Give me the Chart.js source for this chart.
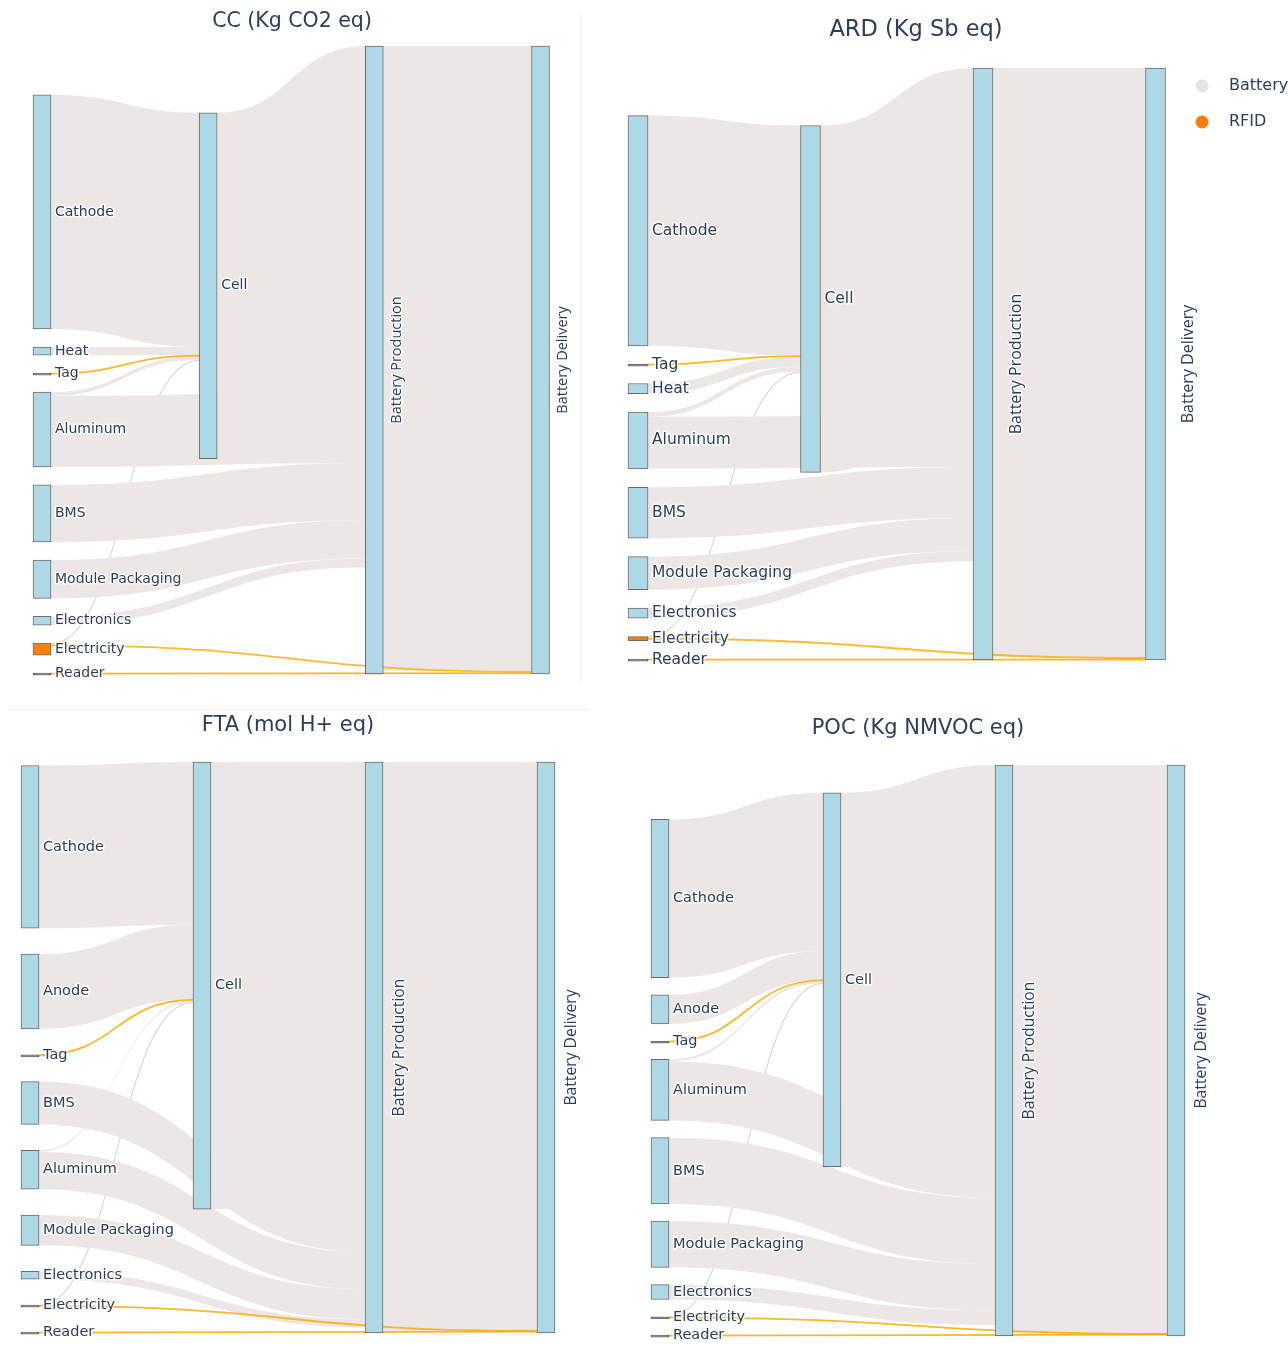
<!DOCTYPE html>
<html>
<head>
<meta charset="utf-8">
<script src="https://cdn.jsdelivr.net/npm/chart.js@4.4.0/dist/chart.umd.min.js"></script>
<style>
  body { margin: 0; background: #fff; }
  #page { position: relative; width: 1288px; height: 1345px; overflow: hidden; }
  canvas { position: absolute; }
  .rule { position: absolute; background: #f0f0f0; }
</style>
</head>
<body>
<div id="page">
  <div class="rule" style="left:580px;top:12px;width:1px;height:670px"></div>
  <div class="rule" style="left:8px;top:709px;width:582px;height:1px"></div>
  <canvas id="cc" width="600" height="690" style="left:0;top:0"></canvas>
  <canvas id="ard" width="688" height="690" style="left:600px;top:0"></canvas>
  <canvas id="fta" width="600" height="655" style="left:0;top:690px"></canvas>
  <canvas id="poc" width="688" height="655" style="left:600px;top:690px"></canvas>
</div>
<script>
// flow categories and the nodes that belong to the RFID system
var linkTypes = ['Battery', 'RFID'];
var rfidNodes = ['Tag', 'Electricity', 'Reader'];

// all values are % of the delivered battery impact
// CC (Kg CO2 eq)
var ccNodes = ['Cathode', 'Heat', 'Tag', 'Aluminum', 'BMS', 'Module Packaging', 'Electronics', 'Electricity', 'Reader', 'Cell', 'Battery Production', 'Battery Delivery'];
var ccNodeValues = [37.3, 1.3, 0.15, 11.9, 9.1, 6.1, 1.4, 1.9, 0.15, 55.1, 100, 100];
var ccSource = ['Cathode', 'Heat', 'Tag', 'Aluminum', 'Electricity', 'Aluminum', 'BMS', 'Module Packaging', 'Electronics', 'Cell', 'Battery Production', 'Electricity', 'Reader'];
var ccTarget = ['Cell', 'Cell', 'Cell', 'Cell', 'Cell', 'Battery Production', 'Battery Production', 'Battery Production', 'Battery Production', 'Battery Production', 'Battery Delivery', 'Battery Delivery', 'Battery Delivery'];
var ccValue = [37.3, 1.3, 0.15, 0.6, 0.2, 11.3, 9.1, 6.1, 1.4, 55.1, 99.5, 0.3, 0.15];
var ccType = ['Battery', 'Battery', 'RFID', 'Battery', 'Battery', 'Battery', 'Battery', 'Battery', 'Battery', 'Battery', 'Battery', 'RFID', 'RFID'];

// ARD (Kg Sb eq)
var ardNodes = ['Cathode', 'Tag', 'Heat', 'Aluminum', 'BMS', 'Module Packaging', 'Electronics', 'Electricity', 'Reader', 'Cell', 'Battery Production', 'Battery Delivery'];
var ardNodeValues = [38.9, 0.15, 1.7, 9.6, 8.6, 5.6, 1.7, 0.7, 0.15, 58.6, 100, 100];
var ardSource = ['Cathode', 'Tag', 'Heat', 'Aluminum', 'Electricity', 'Aluminum', 'BMS', 'Module Packaging', 'Electronics', 'Cell', 'Battery Production', 'Electricity', 'Reader'];
var ardTarget = ['Cell', 'Cell', 'Cell', 'Cell', 'Cell', 'Battery Production', 'Battery Production', 'Battery Production', 'Battery Production', 'Battery Production', 'Battery Delivery', 'Battery Delivery', 'Battery Delivery'];
var ardValue = [38.9, 0.15, 1.7, 0.8, 0.2, 8.8, 8.6, 5.6, 1.7, 58.6, 99.5, 0.35, 0.15];
var ardType = ['Battery', 'RFID', 'Battery', 'Battery', 'Battery', 'Battery', 'Battery', 'Battery', 'Battery', 'Battery', 'Battery', 'RFID', 'RFID'];

// FTA (mol H+ eq)
var ftaNodes = ['Cathode', 'Anode', 'Tag', 'BMS', 'Aluminum', 'Module Packaging', 'Electronics', 'Electricity', 'Reader', 'Cell', 'Battery Production', 'Battery Delivery'];
var ftaNodeValues = [28.5, 13.1, 0.15, 7.5, 6.8, 5.3, 1.4, 0.2, 0.15, 78.3, 100, 100];
var ftaSource = ['Cathode', 'Anode', 'Tag', 'Aluminum', 'Electricity', 'BMS', 'Aluminum', 'Module Packaging', 'Electronics', 'Cell', 'Battery Production', 'Electricity', 'Reader'];
var ftaTarget = ['Cell', 'Cell', 'Cell', 'Cell', 'Cell', 'Battery Production', 'Battery Production', 'Battery Production', 'Battery Production', 'Battery Production', 'Battery Delivery', 'Battery Delivery', 'Battery Delivery'];
var ftaValue = [28.5, 13.1, 0.15, 0.3, 0.1, 7.5, 6.5, 5.3, 1.4, 78.3, 99.6, 0.1, 0.15];
var ftaType = ['Battery', 'Battery', 'RFID', 'Battery', 'Battery', 'Battery', 'Battery', 'Battery', 'Battery', 'Battery', 'Battery', 'RFID', 'RFID'];

// POC (Kg NMVOC eq)
var pocNodes = ['Cathode', 'Anode', 'Tag', 'Aluminum', 'BMS', 'Module Packaging', 'Electronics', 'Electricity', 'Reader', 'Cell', 'Battery Production', 'Battery Delivery'];
var pocNodeValues = [27.7, 5.1, 0.15, 10.7, 11.6, 8.1, 2.6, 0.2, 0.15, 65.5, 100, 100];
var pocSource = ['Cathode', 'Anode', 'Tag', 'Aluminum', 'Electricity', 'Aluminum', 'BMS', 'Module Packaging', 'Electronics', 'Cell', 'Battery Production', 'Electricity', 'Reader'];
var pocTarget = ['Cell', 'Cell', 'Cell', 'Cell', 'Cell', 'Battery Production', 'Battery Production', 'Battery Production', 'Battery Production', 'Battery Production', 'Battery Delivery', 'Battery Delivery', 'Battery Delivery'];
var pocValue = [27.7, 5.1, 0.15, 0.4, 0.1, 10.3, 11.6, 8.1, 2.6, 65.5, 99.6, 0.1, 0.15];
var pocType = ['Battery', 'Battery', 'RFID', 'Battery', 'Battery', 'Battery', 'Battery', 'Battery', 'Battery', 'Battery', 'Battery', 'RFID', 'RFID'];

var textColor = '#2a3f5f';
var nodeColor = '#add8e6';
var rfidNodeColor = '#ff7f0e';
var nodeLine = 'rgba(60,60,60,0.75)';
var linkColor = { Battery: '#ece7e5', RFID: 'rgba(255,170,0,0.8)' };
var thinLinkColor = { Battery: '#dcd7d5', RFID: 'rgba(255,170,0,0.85)' };
var legendColor = { Battery: '#e6e3e3', RFID: '#ff7f0e' };

function sum(arr) {
  return arr.reduce(function (a, b) { return a + b; }, 0);
}

// column, vertical position and link offsets for every node (d3-sankey style, order kept)
function layoutSankey(cfg, heightPx) {
  var nodes = cfg.nodes.map(function (name, i) {
    return { name: name, value: cfg.nodeValues[i], col: 0, ins: [], outs: [] };
  });
  var byName = {};
  nodes.forEach(function (n) { byName[n.name] = n; });
  var links = cfg.source.map(function (s, i) {
    var l = { source: byName[s], target: byName[cfg.target[i]], value: cfg.value[i], type: cfg.type[i] };
    l.source.outs.push(l);
    l.target.ins.push(l);
    return l;
  });

  var changed = true;
  while (changed) {
    changed = false;
    links.forEach(function (l) {
      if (l.target.col < l.source.col + 1) { l.target.col = l.source.col + 1; changed = true; }
    });
  }
  var nCols = Math.max.apply(null, nodes.map(function (n) { return n.col; })) + 1;
  var cols = [];
  for (var c = 0; c < nCols; c++) {
    cols.push(nodes.filter(function (n) { return n.col === c; }));
  }

  var ky = Math.min.apply(null, cols.map(function (col) {
    return (heightPx - (col.length - 1) * cfg.nodePad) / sum(col.map(function (n) { return n.value; }));
  }));
  var H = heightPx / ky, pad = cfg.nodePad / ky;

  function center(n) { return n.y + n.value / 2; }

  function resolve() {
    cols.forEach(function (col) {
      var y0 = 0, i, n, d;
      for (i = 0; i < col.length; i++) {
        n = col[i];
        if (n.y < y0) n.y = y0;
        y0 = n.y + n.value + pad;
      }
      d = y0 - pad - H;
      if (d > 0) {
        n = col[col.length - 1];
        n.y -= d;
        y0 = n.y;
        for (i = col.length - 2; i >= 0; i--) {
          n = col[i];
          d = n.y + n.value + pad - y0;
          if (d > 0) n.y -= d;
          y0 = n.y;
        }
      }
    });
  }

  function relax(order, key, other, alpha) {
    order.forEach(function (col) {
      col.forEach(function (n) {
        var ls = n[key];
        if (!ls.length) return;
        var s = 0, w = 0;
        ls.forEach(function (l) { s += center(l[other]) * l.value; w += l.value; });
        n.y += (s / w - center(n)) * alpha;
      });
    });
  }

  cols.forEach(function (col) {
    var y = 0;
    col.forEach(function (n) { n.y = y; y += n.value + pad; });
  });
  resolve();
  for (var it = 0; it < 150; it++) {
    relax(cols.slice().reverse(), 'outs', 'target', 0.15);
    resolve();
    relax(cols, 'ins', 'source', 0.15);
    resolve();
  }

  nodes.forEach(function (n) {
    n.outs.sort(function (a, b) { return center(a.target) - center(b.target); });
    n.ins.sort(function (a, b) { return center(a.source) - center(b.source); });
    var y = n.y;
    n.outs.forEach(function (l) { l.sy = y; y += l.value; });
    y = n.y;
    n.ins.forEach(function (l) { l.ty = y; y += l.value; });
  });

  return { nodes: nodes, links: links, height: H, cols: nCols, ky: ky };
}

function makeSankey(id, cfg) {
  var canvas = document.getElementById(id);
  var s = layoutSankey(cfg, canvas.height - cfg.padding.top - cfg.padding.bottom);
  var hw = cfg.nodeWidth / 2;

  var sankeyPlugin = {
    id: 'sankeyLinks',
    beforeDatasetsDraw: function (chart) {
      var ctx = chart.ctx, xs = chart.scales.x, ys = chart.scales.y;
      ctx.save();
      linkTypes.forEach(function (t) {
        s.links.forEach(function (l) {
          if (l.type !== t) return;
          var x0 = xs.getPixelForValue(l.source.col) + hw;
          var x1 = xs.getPixelForValue(l.target.col) - hw;
          var xm = (x0 + x1) / 2;
          var s0 = ys.getPixelForValue(l.sy), s1 = ys.getPixelForValue(l.sy + l.value);
          var t0 = ys.getPixelForValue(l.ty), t1 = ys.getPixelForValue(l.ty + l.value);
          ctx.beginPath();
          if (s1 - s0 < 1.6) {
            var sc = (s0 + s1) / 2, tc = (t0 + t1) / 2;
            ctx.moveTo(x0, sc);
            ctx.bezierCurveTo(xm, sc, xm, tc, x1, tc);
            ctx.lineWidth = t === 'RFID' ? 1.8 : 1.2;
            ctx.strokeStyle = thinLinkColor[t];
            ctx.stroke();
          } else {
            ctx.moveTo(x0, s0);
            ctx.bezierCurveTo(xm, s0, xm, t0, x1, t0);
            ctx.lineTo(x1, t1);
            ctx.bezierCurveTo(xm, t1, xm, s1, x0, s1);
            ctx.closePath();
            ctx.fillStyle = linkColor[t];
            ctx.fill();
          }
        });
      });
      ctx.restore();
    },
    afterDatasetsDraw: function (chart) {
      var ctx = chart.ctx, xs = chart.scales.x, ys = chart.scales.y;
      ctx.save();
      ctx.fillStyle = textColor;
      ctx.strokeStyle = 'rgba(255,255,255,0.85)';
      ctx.lineJoin = 'round';
      ctx.lineWidth = 3;
      s.nodes.forEach(function (n) {
        var px = xs.getPixelForValue(n.col) + hw;
        var py = ys.getPixelForValue(n.y + n.value / 2);
        if (n.col >= 2) {
          ctx.save();
          ctx.font = cfg.rotSize + 'px "Open Sans"';
          ctx.translate(px + cfg.rotGap + cfg.rotSize * 0.72, py);
          ctx.rotate(-Math.PI / 2);
          ctx.textAlign = 'center';
          ctx.textBaseline = 'alphabetic';
          ctx.strokeText(n.name, 0, 0);
          ctx.fillText(n.name, 0, 0);
          ctx.restore();
        } else {
          ctx.font = cfg.labelSize + 'px "DejaVu Sans"';
          ctx.textAlign = 'left';
          ctx.textBaseline = 'middle';
          ctx.strokeText(n.name, px + 4, py);
          ctx.fillText(n.name, px + 4, py);
        }
      });
      ctx.restore();
    },
    afterDraw: function (chart) {
      var ctx = chart.ctx;
      ctx.save();
      ctx.fillStyle = textColor;
      ctx.font = cfg.titleSize + 'px "DejaVu Sans"';
      ctx.textAlign = 'center';
      ctx.textBaseline = 'middle';
      ctx.fillText(cfg.title, cfg.titleX, cfg.titleY);
      if (cfg.legend) {
        ctx.font = cfg.legend.size + 'px "DejaVu Sans"';
        ctx.textAlign = 'left';
        linkTypes.forEach(function (t, i) {
          var y = cfg.legend.y + i * cfg.legend.gap;
          ctx.beginPath();
          ctx.arc(cfg.legend.x, y, 6.5, 0, Math.PI * 2);
          ctx.fillStyle = legendColor[t];
          ctx.fill();
          ctx.fillStyle = textColor;
          ctx.fillText(t, cfg.legend.x + 27, y);
        });
      }
      ctx.restore();
    }
  };

  return new Chart(canvas, {
    type: 'bar',
    data: {
      datasets: [{
        data: s.nodes.map(function (n) { return { x: n.col, y: [n.y, n.y + n.value] }; }),
        // nodes thinner than a couple of pixels show up as a dark rule
        backgroundColor: s.nodes.map(function (n) {
          if (n.value * s.ky < 2) return nodeLine;
          return rfidNodes.indexOf(n.name) >= 0 ? rfidNodeColor : nodeColor;
        }),
        borderColor: nodeLine,
        borderWidth: 1,
        borderSkipped: false,
        barThickness: cfg.nodeWidth,
        minBarLength: 2,
        clip: false
      }]
    },
    options: {
      responsive: false,
      animation: false,
      events: [],
      layout: { padding: cfg.padding },
      scales: {
        x: { type: 'linear', min: 0, max: s.cols - 1, offset: false, display: false },
        y: { type: 'linear', min: 0, max: s.height, reverse: true, display: false }
      },
      plugins: {
        legend: { display: false },
        tooltip: { enabled: false }
      }
    },
    plugins: [sankeyPlugin]
  });
}

makeSankey('cc', {
  nodes: ccNodes, nodeValues: ccNodeValues, source: ccSource, target: ccTarget, value: ccValue, type: ccType,
  title: 'CC (Kg CO2 eq)', titleX: 292, titleY: 22, titleSize: 20.5,
  padding: { left: 42, right: 59.5, top: 46, bottom: 16 },
  nodeWidth: 18, nodePad: 18, labelSize: 14, rotSize: 14.5, rotGap: 7
});

makeSankey('ard', {
  nodes: ardNodes, nodeValues: ardNodeValues, source: ardSource, target: ardTarget, value: ardValue, type: ardType,
  title: 'ARD (Kg Sb eq)', titleX: 916 - 600, titleY: 30, titleSize: 22.5,
  padding: { left: 38, right: 132.5, top: 68, bottom: 30 },
  nodeWidth: 20, nodePad: 18.4, labelSize: 15.5, rotSize: 16, rotGap: 16,
  legend: { x: 602, y: 86, gap: 36, size: 16 }
});

makeSankey('fta', {
  nodes: ftaNodes, nodeValues: ftaNodeValues, source: ftaSource, target: ftaTarget, value: ftaValue, type: ftaType,
  title: 'FTA (mol H+ eq)', titleX: 288, titleY: 36, titleSize: 21,
  padding: { left: 30, right: 54, top: 72, bottom: 12 },
  nodeWidth: 18, nodePad: 25.9, labelSize: 14.5, rotSize: 15.7, rotGap: 10
});

makeSankey('poc', {
  nodes: pocNodes, nodeValues: pocNodeValues, source: pocSource, target: pocTarget, value: pocValue, type: pocType,
  title: 'POC (Kg NMVOC eq)', titleX: 318, titleY: 39, titleSize: 21,
  padding: { left: 60, right: 112, top: 75, bottom: 9 },
  nodeWidth: 18, nodePad: 17.25, labelSize: 14.5, rotSize: 15.7, rotGap: 10
});
</script>
</body>
</html>
